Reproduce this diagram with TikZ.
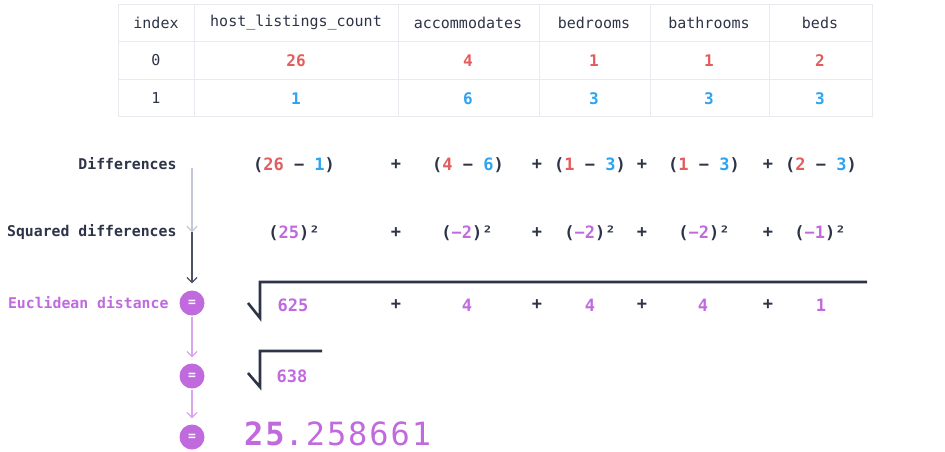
\documentclass[tikz,border=0pt]{standalone}
\usepackage{fontspec}
\setmainfont{DejaVu Sans Mono}
\usepackage{tikz}
\usetikzlibrary{arrows.meta,positioning}
\definecolor{ekred}{HTML}{E35D5D}
\definecolor{ekblue}{HTML}{2EA3F2}
\definecolor{ekpurple}{HTML}{C06ADE}
\definecolor{ekdark}{HTML}{2D3447}
\definecolor{ekgrid}{HTML}{E8EAF0}
\definecolor{ekaxis}{HTML}{C3C7D6}
\newcommand{\rv}[1]{\textcolor{ekred}{#1}}
\newcommand{\bv}[1]{\textcolor{ekblue}{#1}}
\newcommand{\pv}[1]{\textcolor{ekpurple}{#1}}

\begin{document}
\begin{tikzpicture}[x=1pt,y=-1pt,
    hdr/.style={font=\fontsize{15}{17}\selectfont,text=ekdark},
    val/.style={font=\fontsize{16}{18}\selectfont\bfseries},
    steplabel/.style={anchor=east,font=\fontsize{14.8}{17}\selectfont\bfseries,text=ekdark},
    expr/.style={font=\fontsize{17}{19}\selectfont\bfseries,text=ekdark},
    eqdot/.style={circle,fill=ekpurple,minimum size=25pt,inner sep=0pt,
                  text=white,font=\fontsize{13}{13}\selectfont\bfseries},
    rootsign/.style={draw=ekdark,line width=2.6pt},
    flow/.style={line width=1.2pt,-{Straight Barb[length=5pt,width=10pt]}}]
  \useasboundingbox (0,0) rectangle (945,451);

  % table
  \draw[ekgrid,line width=1pt] (118,4) rectangle (872,116);
  \draw[ekgrid,line width=1pt] (118,41) -- (872,41) (118,79) -- (872,79);
  \foreach \x in {194,398,539,650,769}
    \draw[ekgrid,line width=1pt] (\x,4) -- (\x,116);
  \foreach \x/\n/\t in {156/idx/index,296/hlc/host\_listings\_count,468/acc/accommodates,
                        594/bed/bedrooms,709/bath/bathrooms,820/beds/beds}
    \node[hdr] (h-\n) at (\x,23) {\t};
  \node[hdr] (r0-idx) at (156,60) {0};
  \node[hdr] (r1-idx) at (156,98) {1};
  \foreach \x/\n/\a/\b in {296/hlc/26/1,468/acc/4/6,594/bed/1/3,709/bath/1/3,820/beds/2/3} {
    \node[val,text=ekred]  (r0-\n) at (\x,61) {\a};
    \node[val,text=ekblue] (r1-\n) at (\x,99) {\b};
  }

  % step labels
  \node[steplabel] (lab-diff) at (180,164) {Differences};
  \node[steplabel] (lab-sq) at (180,232) {Squared differences};
  \node[steplabel,text=ekpurple] (lab-euc) at (172,303) {Euclidean distance};

  % differences
  \node[expr] (d1) at (294,165) {(\rv{26} − \bv{1})};
  \node[expr] (d2) at (468,165) {(\rv{4} − \bv{6})};
  \node[expr] (d3) at (590,165) {(\rv{1} − \bv{3})};
  \node[expr] (d4) at (704,165) {(\rv{1} − \bv{3})};
  \node[expr] (d5) at (821,165) {(\rv{2} − \bv{3})};
  % squared differences
  \node[expr] (s1) at (294,233) {(\pv{25})²};
  \node[expr] (s2) at (467,233) {(\pv{−2})²};
  \node[expr] (s3) at (590,233) {(\pv{−2})²};
  \node[expr] (s4) at (704,233) {(\pv{−2})²};
  \node[expr] (s5) at (820,233) {(\pv{−1})²};
  % euclidean sum
  \node[expr,text=ekpurple] (e1) at (293,305) {625};
  \node[expr,text=ekpurple] (e2) at (467,305) {4};
  \node[expr,text=ekpurple] (e3) at (590,305) {4};
  \node[expr,text=ekpurple] (e4) at (703,305) {4};
  \node[expr,text=ekpurple] (e5) at (821,305) {1};
  \node[expr,text=ekpurple] (t1) at (292,376) {638};
  \foreach \y in {165,233,305}
    \foreach \x in {396,537,642,768}
      \node[expr] at (\x,\y) {+};

  % root signs
  \draw[rootsign] (248,303) -- (260,318) -- (260,282) -- (867,282);
  \draw[rootsign] (248,373) -- (260,387) -- (260,351) -- (322,351);

  % result
  \node[anchor=base west,inner sep=0pt,text=ekpurple,
        font=\fontsize{32}{32}\selectfont\addfontfeature{LetterSpace=6}]
    (result) at (244,445) {\textbf{25}.258661};

  % flow
  \node[eqdot] (eq1) at (192,303) {=};
  \node[eqdot] (eq2) at (192,376) {=};
  \node[eqdot] (eq3) at (192,437) {=};
  \coordinate (ax-top) at (192,168);
  \coordinate (ax-mid) at (192,232);
  \draw[flow,ekaxis] (ax-top) -- (ax-mid);
  \draw[flow,ekdark!85,shorten >=7pt] (ax-mid) -- (eq1);
  \draw[flow,ekpurple!60,shorten <=1pt,shorten >=6pt] (eq1) -- (eq2);
  \draw[flow,ekpurple!60,shorten <=1pt,shorten >=6pt] (eq2) -- (eq3);
\end{tikzpicture}
\end{document}
